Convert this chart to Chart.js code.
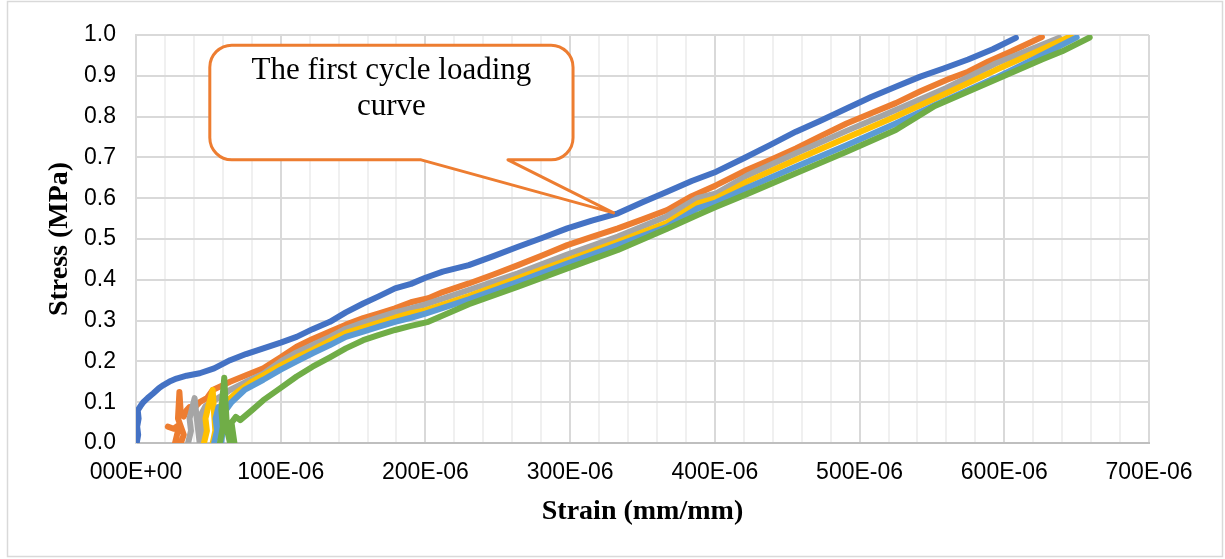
<!DOCTYPE html>
<html>
<head>
<meta charset="utf-8">
<script src="https://cdn.jsdelivr.net/npm/chart.js@4.4.1/dist/chart.umd.min.js"></script>
<style>
  body { margin: 0; background: #fff; }
  #wrap { width: 1225px; height: 559px; position: relative; }
</style>
</head>
<body>
<div id="wrap"><canvas id="stressChart"></canvas></div>
<script>
// strain values are in 1E-06 mm/mm, stress in MPa

var blueStrain = [0.5, 1.5, 0.8, 1.8, 1.2, 3, 5, 8, 12, 16, 19, 24, 28, 35, 44, 54, 65, 76, 88, 100, 111, 122, 134, 145, 157, 168, 179, 190, 200, 212, 230, 247, 264, 281, 298, 315, 333, 350, 367, 384, 401, 420, 438, 456, 473, 491, 508, 525, 542, 558, 575, 592, 608];
var blueStress = [0, 0.02, 0.04, 0.06, 0.08, 0.09, 0.10, 0.11, 0.122, 0.135, 0.142, 0.152, 0.158, 0.165, 0.171, 0.183, 0.203, 0.218, 0.232, 0.246, 0.26, 0.279, 0.297, 0.32, 0.342, 0.36, 0.379, 0.39, 0.405, 0.42, 0.436, 0.458, 0.481, 0.503, 0.526, 0.545, 0.563, 0.59, 0.616, 0.642, 0.665, 0.698, 0.73, 0.763, 0.79, 0.82, 0.848, 0.873, 0.898, 0.918, 0.94, 0.965, 0.993];

var orangeStrain = [22, 26, 30, 27, 31, 33, 29, 30, 31, 33, 35, 37, 40, 44, 49, 53, 59, 65, 76, 88, 100, 111, 122, 134, 145, 157, 168, 179, 190, 202, 212, 230, 247, 264, 281, 298, 315, 333, 350, 367, 384, 401, 422, 439, 456, 473, 491, 508, 525, 542, 560, 575, 589, 605, 626];
var orangeStress = [0.04, 0.035, 0.045, 0.0, 0.0, 0.02, 0.06, 0.125, 0.07, 0.065, 0.08, 0.088, 0.085, 0.1, 0.11, 0.13, 0.14, 0.15, 0.166, 0.183, 0.21, 0.236, 0.255, 0.273, 0.29, 0.306, 0.318, 0.33, 0.345, 0.355, 0.37, 0.391, 0.413, 0.436, 0.46, 0.485, 0.505, 0.526, 0.548, 0.571, 0.605, 0.632, 0.669, 0.695, 0.722, 0.752, 0.783, 0.808, 0.833, 0.862, 0.89, 0.91, 0.935, 0.96, 0.995];

var greyStrain = [36, 38, 37, 40.5, 42, 44, 46, 45, 48, 52, 58, 65, 76, 88, 100, 111, 122, 134, 145, 157, 168, 179, 190, 200, 230, 264, 298, 333, 367, 388, 401, 422, 456, 491, 525, 560, 594, 615, 638];
var greyStress = [0.0, 0.03, 0.06, 0.11, 0.06, 0.0, 0.02, 0.07, 0.09, 0.1, 0.113, 0.13, 0.15, 0.17, 0.2, 0.222, 0.24, 0.26, 0.28, 0.295, 0.308, 0.32, 0.33, 0.34, 0.375, 0.416, 0.462, 0.506, 0.556, 0.6, 0.612, 0.655, 0.71, 0.765, 0.816, 0.87, 0.93, 0.96, 0.993];

var yellowStrain = [47, 49, 48, 50, 53, 54, 55, 53, 56, 58, 62, 70, 80, 90, 100, 111, 122, 134, 145, 157, 168, 179, 190, 200, 230, 264, 298, 333, 367, 388, 401, 422, 456, 491, 525, 560, 594, 620, 646];
var yellowStress = [0.0, 0.03, 0.06, 0.09, 0.13, 0.07, 0.02, 0.0, 0.05, 0.09, 0.1, 0.125, 0.15, 0.17, 0.19, 0.21, 0.228, 0.25, 0.27, 0.283, 0.295, 0.307, 0.318, 0.325, 0.36, 0.404, 0.448, 0.493, 0.54, 0.587, 0.6, 0.64, 0.694, 0.748, 0.8, 0.857, 0.914, 0.955, 0.997];

var lightBlueStrain = [54, 56, 55, 57, 58, 59, 60, 62, 66, 75, 88, 100, 111, 122, 134, 145, 157, 168, 179, 190, 200, 230, 264, 298, 333, 367, 388, 401, 422, 456, 491, 525, 553, 594, 620, 650];
var lightBlueStress = [0.0, 0.03, 0.06, 0.088, 0.05, 0.0, 0.04, 0.08, 0.1, 0.13, 0.155, 0.18, 0.2, 0.22, 0.24, 0.26, 0.273, 0.285, 0.297, 0.307, 0.317, 0.352, 0.395, 0.44, 0.485, 0.53, 0.575, 0.59, 0.625, 0.677, 0.73, 0.783, 0.83, 0.895, 0.94, 0.994];

var greenStrain = [58, 60, 59, 61, 62, 63, 65, 68, 66, 69, 72, 80, 88, 100, 111, 122, 134, 145, 157, 168, 179, 190, 202, 230, 264, 298, 333, 367, 388, 401, 422, 456, 491, 525, 552, 626, 640, 659];
var greenStress = [0.0, 0.04, 0.08, 0.16, 0.09, 0.03, 0.0, 0.0, 0.05, 0.064, 0.056, 0.08, 0.105, 0.135, 0.163, 0.187, 0.21, 0.232, 0.252, 0.265, 0.277, 0.287, 0.297, 0.34, 0.383, 0.428, 0.473, 0.525, 0.559, 0.579, 0.61, 0.661, 0.714, 0.767, 0.826, 0.94, 0.96, 0.994];

var stressTicks = [0, 0.1, 0.2, 0.3, 0.4, 0.5, 0.6, 0.7, 0.8, 0.9, 1.0];

function pairs(xs, ys) {
    return xs.map(function (x, i) { return { x: x, y: ys[i] }; });
}

function strainLabel(v) {
    if (v === 0) return '000E+00';
    if (v % 100 !== 0) return '';
    return String(v) + 'E-06';
}

var series = [
    { name: 'Cycle 1', color: '#4472C4', xs: blueStrain, ys: blueStress },
    { name: 'Cycle 2', color: '#ED7D31', xs: orangeStrain, ys: orangeStress },
    { name: 'Cycle 3', color: '#A5A5A5', xs: greyStrain, ys: greyStress },
    { name: 'Cycle 4', color: '#FFC000', xs: yellowStrain, ys: yellowStress },
    { name: 'Cycle 5', color: '#5B9BD5', xs: lightBlueStrain, ys: lightBlueStress },
    { name: 'Cycle 6', color: '#70AD47', xs: greenStrain, ys: greenStress }
];

// callout anchored in data units
var calloutText = ['The first cycle loading', 'curve'];
var calloutBox = { x1: 51, x2: 302, y1: 0.975, y2: 0.694 };
var calloutTail = { left: 197, right: 257, tipX: 330, tipY: 0.564 };

var outerBorder = {
    id: 'outerBorder',
    beforeDraw: function (chart) {
        var c = chart.ctx;
        c.save();
        c.fillStyle = '#fff';
        c.fillRect(0, 0, chart.width, chart.height);
        c.strokeStyle = '#d9d9d9';
        c.lineWidth = 1.5;
        c.strokeRect(7.5, 1.5, chart.width - 10, chart.height - 4);
        c.restore();
    }
};

var callout = {
    id: 'callout',
    afterDatasetsDraw: function (chart) {
        var c = chart.ctx;
        var xs = chart.scales.x, ys = chart.scales.y;
        var L = xs.getPixelForValue(calloutBox.x1), R = xs.getPixelForValue(calloutBox.x2);
        var T = ys.getPixelForValue(calloutBox.y1), B = ys.getPixelForValue(calloutBox.y2);
        var tl = xs.getPixelForValue(calloutTail.left), tr = xs.getPixelForValue(calloutTail.right);
        var px = xs.getPixelForValue(calloutTail.tipX), py = ys.getPixelForValue(calloutTail.tipY);
        var r = 22;
        c.save();
        c.beginPath();
        c.moveTo(L + r, T);
        c.lineTo(R - r, T);
        c.arcTo(R, T, R, T + r, r);
        c.lineTo(R, B - r);
        c.arcTo(R, B, R - r, B, r);
        c.lineTo(tr, B);
        c.lineTo(px, py);
        c.lineTo(tl, B);
        c.lineTo(L + r, B);
        c.arcTo(L, B, L, B - r, r);
        c.lineTo(L, T + r);
        c.arcTo(L, T, L + r, T, r);
        c.closePath();
        c.fillStyle = '#fff';
        c.fill();
        c.strokeStyle = '#ED7D31';
        c.lineWidth = 3;
        c.lineJoin = 'round';
        c.stroke();
        c.fillStyle = '#000';
        c.font = '31px "Liberation Serif", "Times New Roman", serif';
        c.textAlign = 'center';
        c.textBaseline = 'alphabetic';
        var cx = (L + R) / 2;
        c.fillText(calloutText[0], cx, T + 34);
        c.fillText(calloutText[1], cx, T + 70);
        c.restore();
    }
};

var ctx = document.getElementById('stressChart');

var stressChart = new Chart(ctx, {
    type: 'scatter',
    data: {
        datasets: series.map(function (s, i) {
            return {
                label: s.name,
                data: pairs(s.xs, s.ys),
                showLine: true,
                borderColor: s.color,
                backgroundColor: s.color,
                borderWidth: 6,
                borderJoinStyle: 'round',
                borderCapStyle: 'round',
                pointRadius: 0,
                tension: 0,
                order: series.length - i
            };
        })
    },
    options: {
        responsive: true,
        maintainAspectRatio: false,
        animation: false,
        layout: { padding: { left: 0, top: 35, right: 76, bottom: 0 } },
        plugins: {
            legend: { display: false },
            tooltip: { enabled: false }
        },
        scales: {
            x: {
                type: 'linear',
                min: 0,
                max: 700,
                afterFit: function (scale) { scale.height = 116; },
                afterBuildTicks: function (scale) {
                    var t = [];
                    for (var v = 0; v <= 700; v += 20) t.push({ value: v });
                    scale.ticks = t;
                },
                ticks: {
                    autoSkip: false,
                    maxRotation: 0,
                    padding: 16,
                    color: '#000',
                    font: { family: '"Liberation Sans", Arial, sans-serif', size: 23 },
                    callback: function (v) { return strainLabel(v); }
                },
                grid: {
                    drawTicks: false,
                    lineWidth: 2,
                    color: function (c) {
                        return c.tick && c.tick.value % 100 === 0 ? '#d9d9d9' : '#f0f0f0';
                    }
                },
                border: { display: true, color: '#bfbfbf', width: 2 },
                title: {
                    display: true,
                    text: 'Strain (mm/mm)',
                    color: '#000',
                    padding: { top: 0, bottom: 30 },
                    font: { family: '"Liberation Serif", "Times New Roman", serif', size: 28, weight: 'bold' }
                }
            },
            y: {
                min: 0,
                max: 1,
                afterFit: function (scale) { scale.width = 136; },
                afterBuildTicks: function (scale) {
                    scale.ticks = stressTicks.map(function (v) { return { value: v }; });
                },
                ticks: {
                    padding: 20,
                    color: '#000',
                    font: { family: '"Liberation Sans", Arial, sans-serif', size: 23 },
                    callback: function (v) { return v.toFixed(1); }
                },
                grid: { drawTicks: false, lineWidth: 2, color: '#d9d9d9' },
                border: { display: true, color: '#d9d9d9', width: 2 },
                title: {
                    display: true,
                    text: 'Stress (MPa)',
                    color: '#000',
                    padding: { top: 43, bottom: 0 },
                    font: { family: '"Liberation Serif", "Times New Roman", serif', size: 28, weight: 'bold' }
                }
            }
        }
    },
    plugins: [outerBorder, callout]
});
</script>
</body>
</html>
